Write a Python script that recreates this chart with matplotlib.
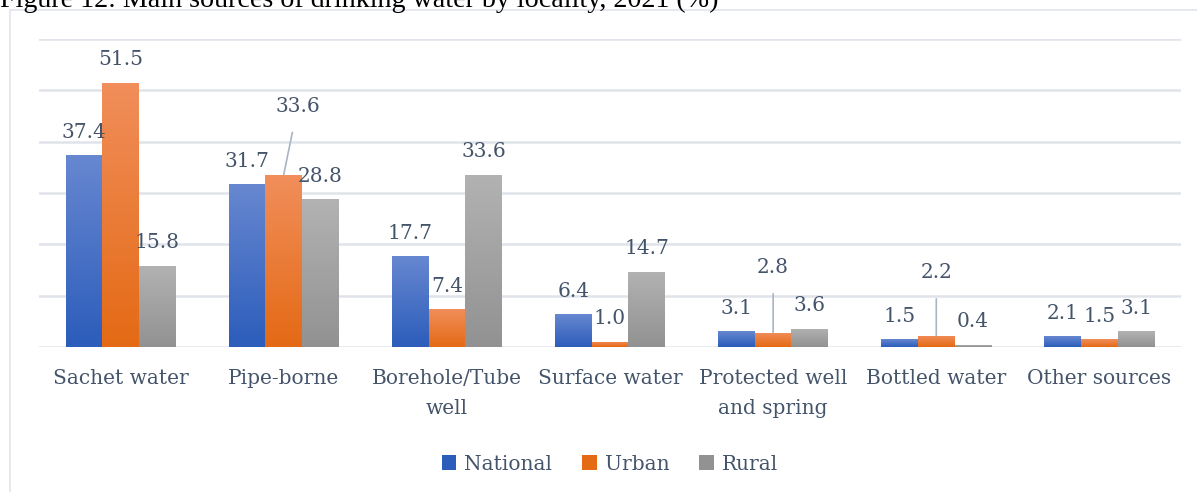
import matplotlib
matplotlib.use("Agg")
import matplotlib.pyplot as plt
import numpy as np
from matplotlib.patches import Rectangle

# Dados
categories = ["Sachet water", "Pipe-borne", "Borehole/Tube\nwell", "Surface water",
              "Protected well\nand spring", "Bottled water", "Other sources"]
national = [37.4, 31.7, 17.7, 6.4, 3.1, 1.5, 2.1]
urban = [51.5, 33.6, 7.4, 1.0, 2.8, 2.2, 1.5]
rural = [15.8, 28.8, 33.6, 14.7, 3.6, 0.4, 3.1]
series_names = ["National", "Urban", "Rural"]

txt_color = "#44546A"
grid_color = "#E0E4EA"
font = "DejaVu Serif"
fs = 14.5

# gradientes (topo, base)
grads = [("#6787D0", "#2C5DBB"), ("#F18E5B", "#E46A15"), ("#B2B2B2", "#929292")]

fig = plt.figure(figsize=(11.97, 4.92), dpi=100)
ax = fig.add_axes([39 / 1197, 1 - 347 / 492, 1142 / 1197, 308 / 492])

# moldura do gráfico
fig.patches.append(Rectangle((10 / 1197, -0.1), 1.2, 1 - 10 / 492 + 0.1, transform=fig.transFigure,
                             fill=False, edgecolor=grid_color, linewidth=1.2, zorder=0))

# título cortado
fig.text(0.0, 1 - 7 / 492, "Figure 12: Main sources of drinking water by locality, 2021 (%)",
         fontsize=20.2, family="Liberation Serif", color="black", va="baseline", ha="left")

x = np.arange(len(categories))
w = 0.225
ax.set_xlim(-0.5, len(categories) - 0.5)
ax.set_ylim(0, 60)

all_bars = []
for k, (vals, name) in enumerate(zip([national, urban, rural], series_names)):
    bars = ax.bar(x + (k - 1) * w, vals, width=w, color=grads[k][1], label=name, zorder=2)
    all_bars.append(bars)
    top, bot = grads[k]
    c1 = np.array(matplotlib.colors.to_rgb(top))
    c2 = np.array(matplotlib.colors.to_rgb(bot))
    for b in bars:
        h = b.get_height()
        t = np.linspace(0, 1, 64)[:, None]
        img = (c1 * (1 - t) + c2 * t)[:, None, :]
        im = ax.imshow(img, extent=[b.get_x(), b.get_x() + b.get_width(), 0, h],
                       aspect="auto", zorder=3, origin="upper")
        im.set_clip_path(b)

# rótulos de valor
special = {(1, 1): (14, 68), (1, 4): (0, 65), (1, 5): (0, 63)}
for k, bars in enumerate(all_bars):
    for i, b in enumerate(bars):
        h = b.get_height()
        cx = b.get_x() + b.get_width() / 2
        dx, dy = special.get((k, i), (0, 23))
        if (k, i) in special:
            ax.annotate(f"{h:.1f}", xy=(cx, h), xytext=(dx, dy), textcoords="offset pixels",
                        ha="center", va="center", fontsize=fs, family=font, color=txt_color,
                        arrowprops=dict(arrowstyle="-", color="#A9B4C4", lw=1.2, shrinkA=10, shrinkB=0),
                        zorder=5)
        else:
            ax.annotate(f"{h:.1f}", xy=(cx, h), xytext=(dx, dy), textcoords="offset pixels",
                        ha="center", va="center", fontsize=fs, family=font, color=txt_color, zorder=5)

ax.set_yticks(np.arange(0, 61, 10))
ax.set_yticklabels([])
ax.yaxis.grid(True, color=grid_color, linewidth=1.8, zorder=0)
ax.set_axisbelow(True)
ax.tick_params(axis="both", length=0)
ax.set_xticks(x)
ax.set_xticklabels(categories, fontsize=fs, family=font, color=txt_color, va="top", linespacing=1.75)
ax.tick_params(axis="x", pad=16)
for s in ax.spines.values():
    s.set_visible(False)

leg = ax.legend(loc="center", bbox_to_anchor=(0.5, (1 - 464 / 492 - (1 - 347 / 492)) / (308 / 492)),
                ncol=3, frameon=False, handlelength=0.7, handleheight=0.7, handletextpad=0.4,
                columnspacing=1.5, prop={"family": font, "size": fs})
for t in leg.get_texts():
    t.set_color(txt_color)

fig.savefig("out.png", dpi=100)
